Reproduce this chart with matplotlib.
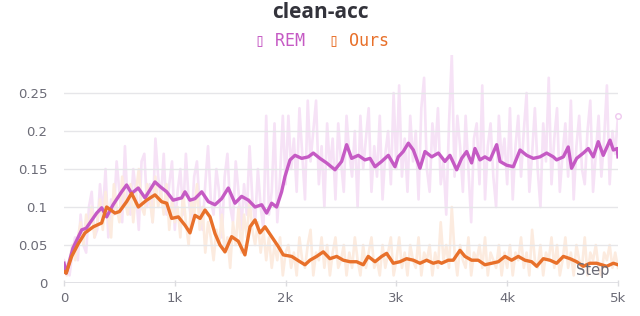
import numpy as np
import matplotlib
matplotlib.use("Agg")
import matplotlib.pyplot as plt

# ---------------- data ----------------
title = "clean-acc"
series_names = ["REM", "Ours"]
x_ticks = [0, 1000, 2000, 3000, 4000, 5000]
x_tick_labels = ["0", "1k", "2k", "3k", "4k", "5k"]
y_ticks = [0, 0.05, 0.1, 0.15, 0.2, 0.25]
y_tick_labels = ["0", "0.05", "0.1", "0.15", "0.2", "0.25"]

rem_smooth_steps = [0, 20, 81, 160, 200, 295, 340, 385, 443, 520, 565, 610, 670, 731, 821, 866,
                    927, 985, 1062, 1092, 1137, 1182, 1243, 1303, 1363, 1423, 1483, 1543, 1603,
                    1664, 1724, 1784, 1829, 1874, 1919, 1964, 1994, 2040, 2085, 2145, 2205, 2250,
                    2310, 2370, 2446, 2506, 2551, 2596, 2656, 2716, 2762, 2807, 2867, 2927, 2987,
                    3017, 3062, 3108, 3153, 3213, 3258, 3319, 3379, 3438, 3483, 3544, 3589, 3634,
                    3679, 3709, 3754, 3799, 3845, 3905, 3935, 3995, 4055, 4116, 4176, 4236, 4296,
                    4356, 4416, 4446, 4507, 4551, 4581, 4627, 4687, 4732, 4777, 4822, 4867, 4928,
                    4958, 4994, 5000]
rem_smooth = [0.026, 0.013, 0.046, 0.070, 0.072, 0.092, 0.099, 0.087, 0.103, 0.120, 0.129, 0.118,
              0.125, 0.112, 0.133, 0.127, 0.120, 0.109, 0.112, 0.120, 0.109, 0.111, 0.120, 0.107,
              0.103, 0.111, 0.125, 0.105, 0.114, 0.109, 0.100, 0.103, 0.092, 0.105, 0.100, 0.120,
              0.140, 0.162, 0.168, 0.164, 0.166, 0.171, 0.164, 0.158, 0.149, 0.160, 0.182, 0.164,
              0.168, 0.162, 0.164, 0.153, 0.160, 0.168, 0.153, 0.166, 0.173, 0.184, 0.175, 0.151,
              0.173, 0.166, 0.171, 0.160, 0.168, 0.149, 0.164, 0.173, 0.158, 0.177, 0.162, 0.166,
              0.162, 0.182, 0.160, 0.155, 0.153, 0.175, 0.168, 0.164, 0.166, 0.171, 0.166, 0.162,
              0.166, 0.179, 0.151, 0.164, 0.171, 0.177, 0.166, 0.186, 0.168, 0.188, 0.175, 0.177,
              0.166]

ours_smooth_steps = [0, 20, 69, 130, 190, 265, 340, 385, 460, 500, 565, 610, 671, 746, 821, 881,
                     927, 972, 1032, 1092, 1137, 1182, 1228, 1273, 1318, 1363, 1408, 1453, 1513,
                     1573, 1633, 1679, 1724, 1769, 1814, 1874, 1934, 1979, 2055, 2130, 2175, 2220,
                     2280, 2340, 2400, 2461, 2521, 2581, 2641, 2701, 2746, 2807, 2867, 2912, 2972,
                     3032, 3092, 3153, 3213, 3273, 3333, 3379, 3408, 3468, 3513, 3574, 3619, 3679,
                     3739, 3799, 3860, 3920, 3980, 4040, 4100, 4160, 4221, 4266, 4326, 4386, 4446,
                     4507, 4567, 4627, 4687, 4747, 4807, 4898, 4958, 5000]
ours_smooth = [0.015, 0.013, 0.035, 0.052, 0.066, 0.074, 0.079, 0.100, 0.092, 0.094, 0.107, 0.118,
               0.100, 0.109, 0.116, 0.107, 0.105, 0.085, 0.087, 0.076, 0.066, 0.089, 0.085, 0.096,
               0.087, 0.065, 0.050, 0.041, 0.061, 0.055, 0.037, 0.074, 0.083, 0.066, 0.074, 0.061,
               0.048, 0.037, 0.035, 0.028, 0.024, 0.030, 0.035, 0.041, 0.032, 0.035, 0.030, 0.028,
               0.028, 0.024, 0.035, 0.028, 0.035, 0.039, 0.026, 0.028, 0.032, 0.030, 0.026, 0.030,
               0.026, 0.028, 0.026, 0.030, 0.030, 0.043, 0.035, 0.030, 0.030, 0.024, 0.026, 0.028,
               0.035, 0.030, 0.035, 0.030, 0.028, 0.022, 0.032, 0.030, 0.026, 0.035, 0.032, 0.028,
               0.022, 0.026, 0.026, 0.022, 0.026, 0.024]

raw_steps = list(range(0, 5001, 25))
rem_raw = [0.03, 0.02, 0.01, 0.04, 0.06, 0.03, 0.09, 0.05, 0.04, 0.10, 0.12, 0.06, 0.07, 0.13,
           0.09, 0.15, 0.06, 0.11, 0.09, 0.16, 0.12, 0.08, 0.18, 0.10, 0.09, 0.15, 0.12, 0.07,
           0.16, 0.17, 0.10, 0.13, 0.08, 0.19, 0.14, 0.11, 0.17, 0.09, 0.13, 0.16, 0.07,
           0.12, 0.15, 0.09, 0.17, 0.11, 0.08, 0.14, 0.16, 0.10, 0.07, 0.13, 0.18, 0.11, 0.09,
           0.15, 0.12, 0.06, 0.14, 0.17, 0.10, 0.08, 0.16, 0.12, 0.07, 0.13, 0.09, 0.18, 0.11,
           0.08, 0.15, 0.10, 0.07, 0.22, 0.09, 0.12, 0.21, 0.08, 0.14, 0.22, 0.13,
           0.22, 0.15, 0.19, 0.12, 0.23, 0.17, 0.11, 0.24, 0.16, 0.20, 0.24, 0.13, 0.18, 0.10,
           0.21, 0.15, 0.19, 0.11, 0.21, 0.16, 0.12, 0.22, 0.17, 0.14, 0.20, 0.10, 0.22, 0.15,
           0.19, 0.23, 0.12, 0.18, 0.14, 0.22, 0.11, 0.17, 0.20, 0.13, 0.25, 0.15,
           0.26, 0.14, 0.19, 0.12, 0.22, 0.16, 0.20, 0.11, 0.23, 0.27, 0.15, 0.12, 0.21, 0.17,
           0.23, 0.13, 0.16, 0.09, 0.21, 0.30, 0.14, 0.22, 0.18, 0.12, 0.22, 0.15, 0.08, 0.19,
           0.21, 0.13, 0.26, 0.11, 0.18, 0.21, 0.14, 0.10, 0.22, 0.16, 0.19, 0.13,
           0.23, 0.11, 0.18, 0.22, 0.14, 0.20, 0.25, 0.12, 0.17, 0.23, 0.15, 0.10, 0.21, 0.16,
           0.27, 0.13, 0.19, 0.23, 0.12, 0.17, 0.21, 0.14, 0.24, 0.11, 0.18, 0.22, 0.15, 0.13,
           0.20, 0.24, 0.12, 0.17, 0.22, 0.14, 0.19, 0.26, 0.13, 0.20, 0.17, 0.22]
ours_raw = [0.02, 0.01, 0.03, 0.05, 0.03, 0.06, 0.08, 0.05, 0.09, 0.07, 0.10, 0.06, 0.08, 0.11,
            0.07, 0.12, 0.09, 0.06, 0.13, 0.10, 0.08, 0.14, 0.11, 0.09, 0.13, 0.08, 0.12, 0.15,
            0.10, 0.09, 0.13, 0.11, 0.08, 0.14, 0.10, 0.12, 0.09, 0.13, 0.07, 0.11, 0.08,
            0.10, 0.06, 0.12, 0.08, 0.05, 0.11, 0.09, 0.13, 0.07, 0.10, 0.04, 0.08, 0.06, 0.03,
            0.07, 0.05, 0.09, 0.04, 0.06, 0.02, 0.08, 0.05, 0.10, 0.04, 0.09, 0.06, 0.11, 0.07,
            0.05, 0.08, 0.04, 0.07, 0.03, 0.06, 0.02, 0.05, 0.03, 0.06, 0.01, 0.04,
            0.05, 0.02, 0.04, 0.01, 0.06, 0.03, 0.02, 0.05, 0.07, 0.01, 0.04, 0.03, 0.06, 0.02,
            0.05, 0.01, 0.04, 0.06, 0.02, 0.03, 0.05, 0.01, 0.04, 0.02, 0.06, 0.03, 0.01, 0.05,
            0.02, 0.04, 0.06, 0.02, 0.03, 0.01, 0.05, 0.02, 0.04, 0.06, 0.01, 0.03,
            0.06, 0.02, 0.04, 0.01, 0.05, 0.03, 0.02, 0.06, 0.01, 0.04, 0.03, 0.05, 0.01, 0.04,
            0.02, 0.08, 0.03, 0.05, 0.02, 0.10, 0.04, 0.01, 0.05, 0.03, 0.02, 0.06, 0.01, 0.04,
            0.03, 0.05, 0.02, 0.06, 0.01, 0.04, 0.03, 0.02, 0.05, 0.01, 0.04, 0.02,
            0.05, 0.01, 0.04, 0.03, 0.06, 0.02, 0.04, 0.01, 0.07, 0.03, 0.02, 0.05, 0.01, 0.04,
            0.03, 0.06, 0.02, 0.05, 0.01, 0.03, 0.06, 0.02, 0.04, 0.01, 0.05, 0.03, 0.02, 0.06,
            0.01, 0.04, 0.03, 0.05, 0.02, 0.01, 0.04, 0.03, 0.05, 0.02, 0.04, 0.02]

# ---------------- style ----------------
REM_C = "#c55ac4"
OURS_C = "#e8702a"
REM_RAW_C = "#f6e2f6"
OURS_RAW_C = "#fcebdf"
TICK_C = "#6b6b76"
GRID_C = "#e6e6e9"

fig = plt.figure(figsize=(6.4, 3.16), dpi=100)
ax = fig.add_axes([0.1, 0.1044, 0.8656, 0.7215])

ax.plot(raw_steps, rem_raw, color=REM_RAW_C, lw=1.9, zorder=1)
ax.plot(raw_steps, ours_raw, color=OURS_RAW_C, lw=1.9, zorder=1.5)
ax.plot(raw_steps[-1:], rem_raw[-1:], "o", ms=4, mfc="white", mec="#efc9ef", mew=1.0,
        zorder=2.5, clip_on=False)
ax.plot(rem_smooth_steps, rem_smooth, color=REM_C, lw=2.4, zorder=3)
ax.plot(ours_smooth_steps, ours_smooth, color=OURS_C, lw=2.4, zorder=4)

ax.set_xlim(0, 5000)
ax.set_ylim(0, 0.30)
ax.set_xticks(x_ticks)
ax.set_xticklabels(x_tick_labels)
ax.set_yticks(y_ticks)
ax.set_yticklabels(y_tick_labels)

for s in ax.spines.values():
    s.set_visible(False)
ax.set_axisbelow(False)
ax.grid(axis="y", color=GRID_C, lw=1.0, zorder=2)
ax.axhline(0, color="#dcdce0", lw=1.2, zorder=2)
ax.tick_params(axis="y", length=0, pad=12, labelsize=9.5, labelcolor=TICK_C)
ax.tick_params(axis="x", length=5, direction="inout", color="#dcdce0", width=1.0,
               pad=4, labelsize=9.5, labelcolor=TICK_C)
for lab in ax.get_xticklabels() + ax.get_yticklabels():
    lab.set_family("DejaVu Sans")

ax.text(0.985, 0.022, "Step", transform=ax.transAxes, ha="right", va="bottom",
        fontsize=10.5, color=TICK_C, zorder=5)

fig.text(0.5, 0.962, title, ha="center", va="center", fontsize=15, fontweight="bold",
         color="#33333b", family="Open Sans")
fig.text(0.477, 0.873, "\u25af REM", ha="right", va="center", fontsize=12,
         color=REM_C, family="DejaVu Sans Mono")
fig.text(0.514, 0.873, "\u25af Ours", ha="left", va="center", fontsize=12,
         color=OURS_C, family="DejaVu Sans Mono")

fig.savefig("out.png", dpi=100, facecolor="white")
